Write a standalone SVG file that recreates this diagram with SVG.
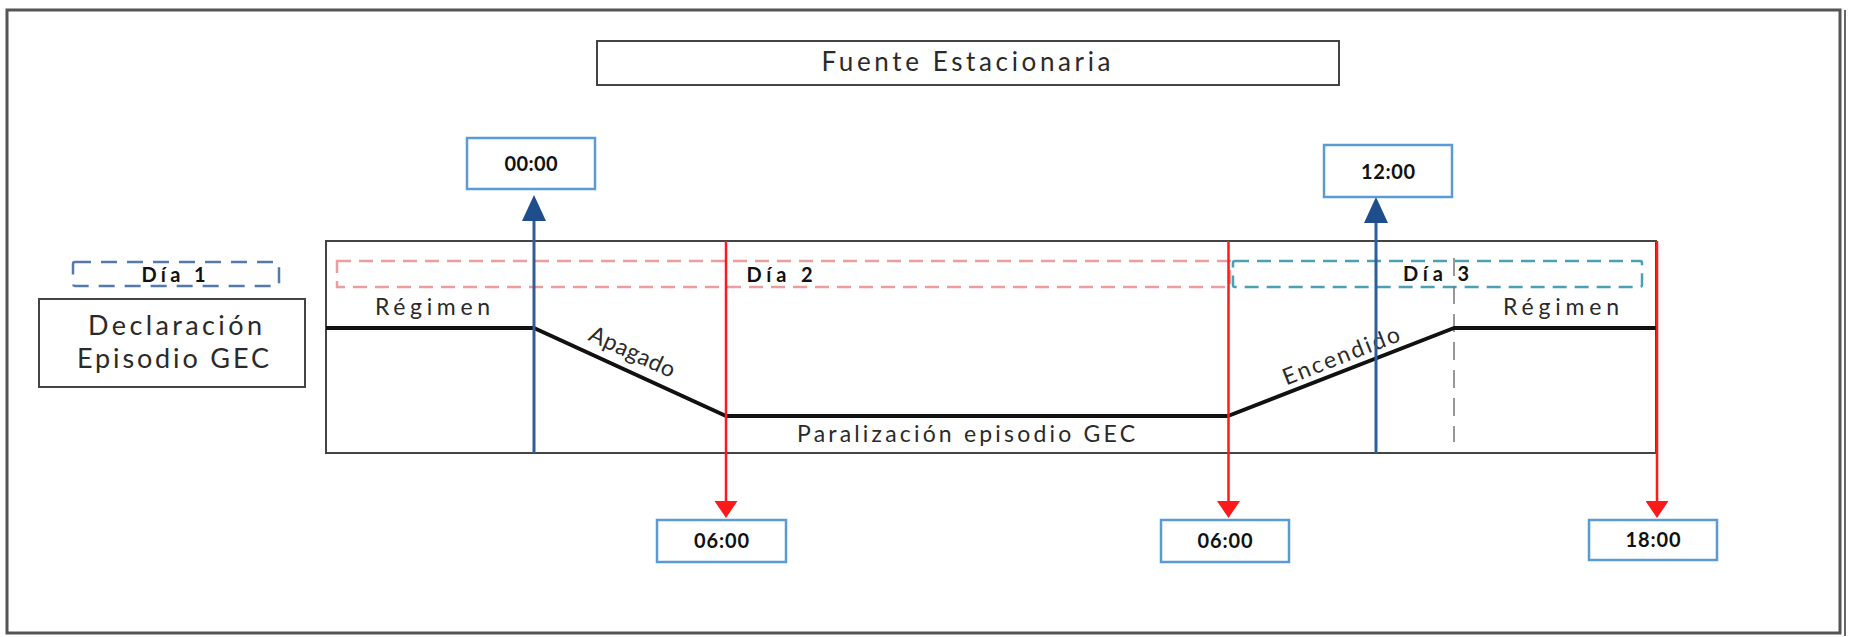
<svg xmlns="http://www.w3.org/2000/svg" width="1854" height="637" viewBox="0 0 1854 637">
<defs>
<style>
.frame{fill:none;stroke:#555;stroke-width:3}
.box{fill:#fff;stroke:#444;stroke-width:2}
.tbox{fill:#fff;stroke:#5b9bd5;stroke-width:2.5}
.t{font-family:Lato,"Open Sans","Liberation Sans",sans-serif;fill:#2a2a2a}
.tb{font-family:Lato,"Open Sans","Liberation Sans",sans-serif;font-weight:bold;fill:#111;font-size:20px}
.blue{stroke:#2f5d9a;stroke-width:3;fill:none}
.red{stroke:#ff1a1a;stroke-width:2.5;fill:none}
.profile{stroke:#111;stroke-width:4;fill:none;stroke-linejoin:round}
</style>
<marker id="ab" markerUnits="userSpaceOnUse" markerWidth="26" markerHeight="24" viewBox="0 0 26 24" refX="0" refY="12" orient="auto">
<path d="M0,0 L26,12 L0,24 z" fill="#1f4e8c"/>
</marker>
<marker id="ar" markerUnits="userSpaceOnUse" markerWidth="17" markerHeight="23" viewBox="0 0 17 23" refX="0" refY="11.5" orient="auto">
<path d="M0,0 L17,11.5 L0,23 z" fill="#ff1a1a"/>
</marker>
</defs>
<rect width="1854" height="637" fill="#fff"/>
<g id="frame">
<rect class="frame" x="7" y="10" width="1833" height="623"/>
<line x1="1845" y1="10" x2="1845" y2="636" stroke="#666" stroke-width="2"/>
</g>
<g id="title">
<rect class="box" x="597" y="41" width="742" height="44"/>
<text class="t" x="966" y="71" font-size="26" text-anchor="middle" textLength="289">Fuente Estacionaria</text>
</g>
<g id="chart">
<rect class="box" x="326" y="241" width="1330" height="212" fill="none"/>
<rect x="337" y="261" width="893" height="26" fill="none" stroke="#ec9e9e" stroke-width="2.5" stroke-dasharray="14 8"/>
<rect x="1233" y="261" width="409" height="26" rx="2" fill="none" stroke="#4ba0b4" stroke-width="2.5" stroke-dasharray="14 8"/>
<line x1="1454" y1="258" x2="1454" y2="442" stroke="#777" stroke-width="1.5" stroke-dasharray="18 10"/>
<polyline class="profile" points="326,328 534,328 726,416 1228,416 1454,328 1657,328"/>
</g>
<g id="dia1">
<rect x="73" y="262" width="206" height="24" rx="2" fill="none" stroke="#5578ad" stroke-width="2.5" stroke-dasharray="16 10"/>
<text class="tb" x="173.5" y="282" font-size="22" text-anchor="middle" textLength="64">Día 1</text>
</g>
<g id="declaracion">
<rect class="box" x="39" y="299" width="266" height="88"/>
<text class="t" x="175" y="335" font-size="27" text-anchor="middle" textLength="174">Declaración</text>
<text class="t" x="173" y="368" font-size="27" text-anchor="middle" textLength="192">Episodio GEC</text>
</g>
<g id="labels">
<text class="tb" x="779.5" y="282" font-size="22" text-anchor="middle" textLength="66">Día 2</text>
<text class="tb" x="1436" y="281" font-size="22" text-anchor="middle" textLength="66">Día 3</text>
<text class="t" x="432.5" y="315" font-size="23" text-anchor="middle" textLength="115">Régimen</text>
<text class="t" x="1561" y="315" font-size="23" text-anchor="middle" textLength="116">Régimen</text>
<text class="t" x="966" y="442" font-size="23" text-anchor="middle" textLength="338">Paralización episodio GEC</text>
<text class="t" font-size="23" text-anchor="middle" textLength="92" transform="translate(629,359) rotate(24.6)">Apagado</text>
<text class="t" font-size="23" text-anchor="middle" textLength="124" transform="translate(1344,363) rotate(-21.4)">Encendido</text>
</g>
<g id="connectors">
<line class="blue" x1="534" y1="453" x2="534" y2="221" marker-end="url(#ab)"/>
<line class="blue" x1="1376" y1="453" x2="1376" y2="223" marker-end="url(#ab)"/>
<line class="red" x1="726" y1="241" x2="726" y2="501" marker-end="url(#ar)"/>
<line class="red" x1="1228.5" y1="241" x2="1228.5" y2="501" marker-end="url(#ar)"/>
<line class="red" x1="1657" y1="241" x2="1657" y2="501" marker-end="url(#ar)"/>
</g>
<g id="t0000">
<rect class="tbox" x="467" y="138" width="128" height="51"/>
<text class="tb" x="531" y="171" text-anchor="middle" textLength="53">00:00</text>
</g>
<g id="t1200">
<rect class="tbox" x="1324" y="145" width="128" height="52"/>
<text class="tb" x="1388" y="179" text-anchor="middle" textLength="54">12:00</text>
</g>
<g id="t0600a">
<rect class="tbox" x="657" y="520" width="129" height="42"/>
<text class="tb" x="721.5" y="548" text-anchor="middle" textLength="55">06:00</text>
</g>
<g id="t0600b">
<rect class="tbox" x="1161" y="520" width="128" height="42"/>
<text class="tb" x="1225" y="548" text-anchor="middle" textLength="55">06:00</text>
</g>
<g id="t1800">
<rect class="tbox" x="1589" y="520" width="128" height="40"/>
<text class="tb" x="1653" y="547" text-anchor="middle" textLength="55">18:00</text>
</g>
</svg>
